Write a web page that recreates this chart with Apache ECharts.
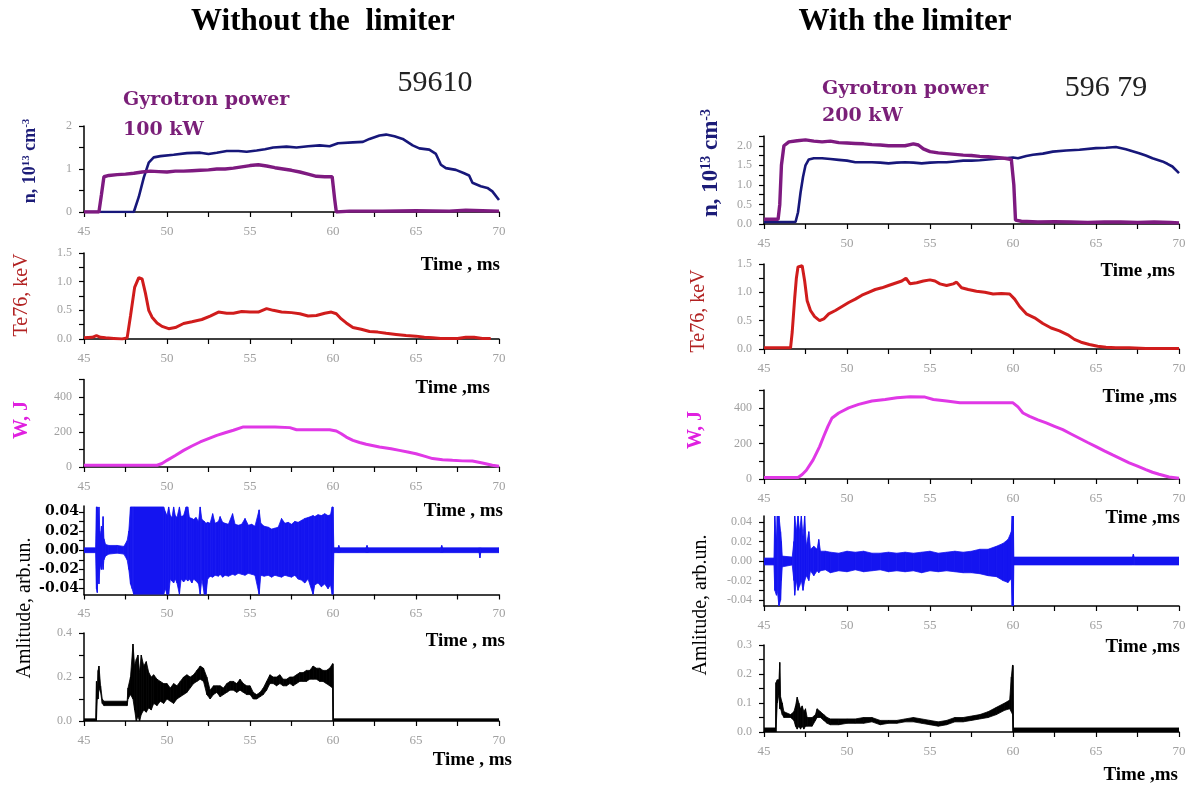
<!DOCTYPE html>
<html>
<head>
<meta charset="utf-8">
<script src="https://cdn.jsdelivr.net/npm/echarts@6.0.0/dist/echarts.min.js"></script>
<style>
html,body{margin:0;padding:0;background:#fff;}
#c{width:1192px;height:787px;}
</style>
</head>
<body>
<div id="c"></div>
<script>
// ---------------- DATA ----------------
// time axis ticks
const timeTicks = [45, 50, 55, 60, 65, 70];

// LEFT (without limiter, shot 59610)
const nL = [[45,0],[48.0,0],[48.3,0.35],[48.6,0.8],[48.9,1.15],[49.2,1.27],[49.6,1.3],[50.4,1.33],[51.2,1.37],[52.0,1.38],[52.5,1.35],[53.0,1.38],[53.6,1.42],[54.3,1.42],[54.8,1.40],[55.4,1.43],[55.9,1.46],[56.4,1.5],[57.2,1.52],[57.8,1.5],[58.5,1.53],[59.2,1.55],[59.8,1.53],[60.3,1.6],[61.2,1.62],[61.8,1.63],[62.2,1.7],[62.8,1.78],[63.2,1.8],[63.7,1.76],[64.2,1.7],[64.8,1.55],[65.2,1.48],[65.8,1.45],[66.2,1.35],[66.5,1.1],[66.8,1.02],[67.4,0.98],[67.9,0.9],[68.2,0.85],[68.4,0.68],[68.9,0.6],[69.3,0.56],[69.6,0.48],[70,0.28]];
const gyroL = [[45,0],[45.9,0],[46.05,0.4],[46.2,0.82],[46.5,0.85],[47.0,0.87],[47.5,0.88],[48.0,0.9],[48.5,0.93],[49.0,0.95],[49.5,0.94],[50.0,0.93],[50.5,0.95],[51.0,0.95],[51.5,0.96],[52.0,0.97],[52.5,0.98],[53.0,1.0],[53.5,1.0],[54.0,1.02],[54.5,1.05],[55.0,1.08],[55.5,1.1],[56.0,1.07],[56.5,1.03],[57.0,1.0],[57.5,0.97],[58.0,0.93],[58.5,0.88],[59.0,0.83],[59.5,0.82],[59.95,0.82],[60.1,0.3],[60.2,0.0],[61,0.02],[63,0.02],[65,0.03],[67,0.02],[68,0.04],[69,0.03],[70,0.02]];
const teL = [[45,0.02],[45.5,0.03],[45.75,0.06],[46.0,0.03],[46.3,0.02],[46.8,0.01],[47.3,0.0],[47.6,0.02],[47.8,0.4],[48.05,0.9],[48.3,1.07],[48.5,1.05],[48.7,0.8],[48.9,0.5],[49.1,0.38],[49.4,0.28],[49.7,0.22],[50.1,0.18],[50.5,0.2],[51.0,0.27],[51.5,0.3],[52.1,0.34],[52.6,0.4],[53.1,0.47],[53.6,0.45],[54.0,0.45],[54.5,0.48],[55.0,0.47],[55.5,0.47],[56.0,0.53],[56.4,0.5],[56.9,0.47],[57.5,0.46],[58.0,0.44],[58.5,0.4],[59.0,0.41],[59.5,0.45],[59.9,0.47],[60.2,0.44],[60.5,0.35],[60.8,0.28],[61.2,0.2],[61.7,0.17],[62.2,0.13],[62.7,0.12],[63.2,0.1],[63.8,0.08],[64.4,0.06],[65.0,0.05],[65.5,0.03],[66.0,0.02],[66.5,0.01],[67.5,0.01],[68.0,0.03],[68.5,0.03],[69.0,0.01],[69.5,0.01]];
const wL = [[45,10],[49.4,10],[49.7,20],[50.0,38],[50.5,66],[51.0,95],[51.5,120],[52.0,143],[52.5,162],[53.0,181],[53.5,196],[54.0,210],[54.6,229],[55.5,229],[56.5,229],[57.4,225],[57.8,213],[59.8,213],[60.2,206],[60.5,190],[60.8,171],[61.2,152],[61.6,140],[62.0,130],[62.8,114],[63.5,104],[64.0,95],[64.5,86],[65.0,76],[65.5,62],[66.0,48],[66.6,42],[67.2,38],[67.8,35],[68.4,34],[69.0,23],[69.6,10],[70,4]];
// ECE signal envelope: [time, lower, upper]
const eceL = [[45,-0.0025,0.0025],[45.7,-0.0025,0.0025],[45.75,-0.04,0.045],[45.8,-0.044,0.045],[45.85,-0.02,0.03],[45.9,-0.035,0.045],[45.95,-0.02,0.02],[46.0,-0.015,0.015],[46.05,-0.02,0.025],[46.1,-0.012,0.015],[46.15,-0.02,0.035],[46.2,-0.01,0.012],[46.3,-0.006,0.006],[46.5,-0.004,0.005],[47.0,-0.003,0.005],[47.4,-0.004,0.004],[47.6,-0.01,0.01],[47.7,-0.02,0.02],[47.8,-0.035,0.045],[47.9,-0.04,0.045],[48.0,-0.046,0.045],[49.8,-0.046,0.045],[49.9,-0.04,0.04],[50.0,-0.046,0.036],[50.1,-0.046,0.045],[50.2,-0.03,0.036],[50.3,-0.032,0.034],[50.4,-0.034,0.045],[50.5,-0.03,0.036],[50.6,-0.034,0.034],[50.75,-0.046,0.045],[50.85,-0.03,0.035],[51.0,-0.033,0.036],[51.15,-0.03,0.045],[51.25,-0.032,0.045],[51.35,-0.03,0.034],[51.5,-0.034,0.033],[51.6,-0.03,0.032],[51.75,-0.032,0.034],[51.9,-0.035,0.03],[52.0,-0.046,0.045],[52.1,-0.03,0.032],[52.25,-0.046,0.03],[52.35,-0.046,0.028],[52.45,-0.03,0.029],[52.6,-0.027,0.028],[52.75,-0.028,0.038],[52.9,-0.026,0.028],[53.1,-0.027,0.03],[53.2,-0.025,0.035],[53.35,-0.028,0.029],[53.5,-0.026,0.028],[53.7,-0.027,0.027],[53.95,-0.025,0.038],[54.1,-0.026,0.027],[54.3,-0.024,0.026],[54.5,-0.025,0.027],[54.7,-0.026,0.033],[54.9,-0.024,0.026],[55.1,-0.025,0.027],[55.3,-0.026,0.025],[55.55,-0.046,0.042],[55.65,-0.026,0.028],[55.85,-0.027,0.025],[56.1,-0.026,0.024],[56.3,-0.028,0.022],[56.5,-0.026,0.023],[56.7,-0.027,0.024],[56.9,-0.028,0.033],[57.1,-0.026,0.028],[57.3,-0.027,0.029],[57.5,-0.028,0.027],[57.7,-0.026,0.03],[57.9,-0.03,0.029],[58.1,-0.031,0.031],[58.3,-0.034,0.033],[58.5,-0.03,0.034],[58.8,-0.046,0.036],[58.9,-0.036,0.035],[59.1,-0.034,0.037],[59.3,-0.038,0.036],[59.5,-0.035,0.038],[59.7,-0.04,0.036],[59.85,-0.036,0.037],[59.95,-0.046,0.045],[60.0,-0.046,0.045],[60.05,-0.0025,0.0025],[60.3,-0.0025,0.0025],[60.35,-0.0025,0.005],[60.4,-0.0025,0.0025],[62.0,-0.0025,0.0025],[62.05,-0.0025,0.005],[62.1,-0.0025,0.0025],[66.5,-0.0025,0.0025],[66.55,-0.0025,0.005],[66.6,-0.0025,0.0025],[68.8,-0.0025,0.0025],[68.85,-0.008,0.0025],[68.9,-0.0025,0.0025],[70,-0.0025,0.0025]];
const ampL = [[45,0,0.01],[45.7,0,0.01],[45.75,0.0,0.18],[45.8,0.1,0.13],[45.85,0.1,0.23],[45.9,0.15,0.25],[46.0,0.13,0.16],[46.1,0.08,0.1],[46.2,0.07,0.09],[47.6,0.07,0.09],[47.65,0.1,0.15],[47.8,0.12,0.2],[47.95,0.1,0.35],[48.05,0.05,0.25],[48.15,0.0,0.28],[48.25,0.02,0.3],[48.35,0.0,0.22],[48.45,0.03,0.3],[48.6,0.05,0.25],[48.75,0.04,0.27],[48.9,0.06,0.22],[49.05,0.05,0.2],[49.2,0.08,0.21],[49.4,0.07,0.19],[49.6,0.09,0.18],[49.8,0.08,0.17],[50.0,0.1,0.17],[50.2,0.09,0.15],[50.4,0.08,0.17],[50.6,0.1,0.16],[50.8,0.11,0.18],[51.0,0.12,0.2],[51.2,0.13,0.21],[51.4,0.15,0.2],[51.6,0.17,0.21],[51.8,0.18,0.23],[52.0,0.19,0.25],[52.2,0.18,0.24],[52.4,0.12,0.2],[52.6,0.1,0.14],[52.8,0.12,0.16],[53.0,0.13,0.16],[53.2,0.11,0.16],[53.4,0.12,0.15],[53.6,0.13,0.17],[53.8,0.14,0.18],[54.0,0.14,0.18],[54.2,0.13,0.17],[54.4,0.14,0.19],[54.6,0.13,0.17],[54.8,0.12,0.16],[55.0,0.12,0.16],[55.2,0.1,0.13],[55.4,0.1,0.12],[55.6,0.11,0.13],[55.8,0.12,0.15],[56.0,0.14,0.18],[56.2,0.17,0.21],[56.4,0.17,0.2],[56.6,0.16,0.2],[56.8,0.17,0.21],[57.0,0.16,0.19],[57.2,0.16,0.19],[57.4,0.17,0.2],[57.6,0.16,0.2],[57.8,0.17,0.21],[58.0,0.18,0.22],[58.2,0.18,0.22],[58.4,0.18,0.23],[58.6,0.19,0.23],[58.8,0.19,0.25],[59.0,0.19,0.24],[59.2,0.18,0.24],[59.4,0.18,0.23],[59.6,0.17,0.23],[59.8,0.16,0.24],[59.97,0.15,0.26],[60.0,0,0.26],[60.03,0,0.01],[70,0,0.01]];

// RIGHT (with limiter, shot 59679)
const nR = [[45,0.05],[46.9,0.05],[47.05,0.3],[47.2,0.8],[47.35,1.2],[47.5,1.5],[47.7,1.65],[48.0,1.68],[48.5,1.68],[49.0,1.66],[49.5,1.64],[50.0,1.62],[50.5,1.58],[51.0,1.58],[51.5,1.58],[52.0,1.57],[52.5,1.55],[53.0,1.57],[53.5,1.58],[54.0,1.57],[54.5,1.55],[55.0,1.57],[55.5,1.58],[56.0,1.58],[56.5,1.6],[57.0,1.62],[57.5,1.62],[58.0,1.63],[58.5,1.65],[59.0,1.67],[59.5,1.68],[60.0,1.7],[60.3,1.68],[60.8,1.74],[61.2,1.77],[61.8,1.8],[62.4,1.85],[63.2,1.88],[64.0,1.9],[65.0,1.94],[65.6,1.95],[66.2,1.97],[66.8,1.91],[67.2,1.86],[67.6,1.81],[68.0,1.75],[68.4,1.68],[69.0,1.6],[69.3,1.54],[69.6,1.47],[70,1.3]];
const gyroR = [[45,0.12],[45.85,0.12],[45.95,0.5],[46.05,1.5],[46.2,2.0],[46.5,2.1],[47.0,2.13],[47.5,2.15],[48.0,2.12],[48.5,2.1],[49.0,2.12],[49.5,2.08],[50.0,2.07],[50.5,2.06],[51.0,2.05],[51.5,2.03],[52.0,2.02],[52.5,2.0],[53.0,2.0],[53.5,2.0],[54.0,2.05],[54.3,2.02],[54.6,1.92],[55.0,1.85],[55.5,1.82],[56.0,1.8],[56.5,1.78],[57.0,1.76],[57.5,1.75],[58.0,1.73],[58.5,1.72],[59.0,1.7],[59.5,1.68],[59.9,1.65],[60.05,1.0],[60.15,0.1],[60.5,0.07],[61.5,0.05],[62.5,0.06],[63.5,0.05],[64.5,0.04],[65.5,0.05],[66.5,0.05],[67.5,0.04],[68.5,0.05],[69.5,0.04],[70,0.03]];
const teR = [[45,0.02],[46.6,0.02],[46.7,0.3],[46.85,0.9],[46.95,1.25],[47.05,1.45],[47.3,1.47],[47.45,1.2],[47.6,0.85],[47.8,0.68],[48.05,0.57],[48.35,0.5],[48.6,0.53],[48.9,0.62],[49.3,0.68],[49.7,0.75],[50.1,0.82],[50.5,0.88],[50.9,0.95],[51.3,1.0],[51.7,1.05],[52.1,1.08],[52.5,1.12],[52.9,1.16],[53.3,1.2],[53.55,1.25],[53.8,1.15],[54.2,1.17],[54.6,1.2],[55.0,1.22],[55.3,1.2],[55.6,1.15],[56.0,1.12],[56.4,1.15],[56.6,1.18],[56.9,1.08],[57.3,1.05],[57.8,1.02],[58.3,1.0],[58.8,0.97],[59.3,0.98],[59.8,0.97],[60.1,0.88],[60.4,0.75],[60.8,0.62],[61.3,0.55],[61.8,0.45],[62.3,0.37],[62.8,0.32],[63.3,0.25],[63.7,0.17],[64.1,0.12],[64.6,0.08],[65.1,0.05],[65.6,0.03],[66.2,0.02],[67.0,0.02],[68,0.01],[70,0.01]];
const wR = [[45,8],[47.05,8],[47.3,25],[47.55,49],[47.95,106],[48.35,182],[48.6,240],[48.85,296],[49.1,343],[49.5,371],[50.1,400],[50.7,419],[51.5,438],[52.3,447],[53.0,457],[53.8,462],[54.7,460],[55.2,447],[56.0,438],[56.8,428],[60.0,428],[60.3,405],[60.6,371],[61.0,352],[61.5,332],[62.0,315],[62.5,296],[63.0,277],[63.5,253],[64.0,229],[64.5,205],[65.0,182],[65.5,158],[66.0,135],[66.5,113],[67.0,91],[67.5,72],[68.0,53],[68.4,38],[68.8,27],[69.4,11],[70,4]];
const eceR = [[45,-0.004,0.003],[45.6,-0.004,0.003],[45.65,-0.03,0.046],[45.75,-0.035,0.02],[45.8,-0.03,0.046],[45.9,-0.046,0.046],[46.0,-0.04,0.03],[46.05,-0.02,0.02],[46.1,-0.006,0.005],[46.7,-0.004,0.004],[46.8,-0.02,0.02],[46.85,-0.035,0.046],[46.95,-0.02,0.03],[47.05,-0.03,0.046],[47.15,-0.025,0.03],[47.25,-0.02,0.046],[47.35,-0.03,0.025],[47.45,-0.02,0.046],[47.55,-0.015,0.015],[47.7,-0.02,0.03],[47.8,-0.01,0.012],[48.0,-0.015,0.015],[48.2,-0.01,0.012],[48.3,-0.012,0.022],[48.4,-0.01,0.01],[48.7,-0.009,0.01],[49.0,-0.012,0.009],[49.5,-0.01,0.008],[50.0,-0.011,0.01],[50.5,-0.009,0.009],[51.0,-0.011,0.01],[51.5,-0.01,0.008],[52.0,-0.009,0.008],[52.5,-0.011,0.009],[53.0,-0.01,0.008],[53.5,-0.011,0.009],[54.0,-0.01,0.008],[54.5,-0.012,0.009],[55.0,-0.01,0.01],[55.5,-0.011,0.008],[56.0,-0.01,0.009],[56.5,-0.011,0.01],[57.0,-0.012,0.009],[57.5,-0.012,0.01],[58.0,-0.013,0.012],[58.5,-0.015,0.012],[59.0,-0.016,0.015],[59.4,-0.02,0.018],[59.7,-0.022,0.022],[59.9,-0.018,0.03],[59.95,-0.046,0.046],[60.02,-0.046,0.046],[60.05,-0.004,0.004],[67.2,-0.004,0.004],[67.25,-0.004,0.007],[67.3,-0.004,0.004],[70,-0.004,0.004]];
const ampR = [[45,0,0.014],[45.7,0,0.014],[45.72,0,0.17],[45.8,0.1,0.18],[45.9,0.13,0.18],[45.95,0.08,0.24],[46.0,0.08,0.12],[46.1,0.06,0.1],[46.2,0.05,0.07],[46.6,0.05,0.06],[46.8,0.04,0.07],[46.9,0.02,0.09],[47.0,0.01,0.12],[47.1,0.02,0.1],[47.2,0.01,0.08],[47.3,0.02,0.09],[47.4,0.01,0.07],[47.5,0.02,0.08],[47.6,0.02,0.05],[47.9,0.02,0.05],[48.1,0.04,0.06],[48.2,0.05,0.08],[48.4,0.05,0.07],[48.6,0.04,0.06],[48.8,0.03,0.05],[49.0,0.025,0.045],[49.5,0.025,0.045],[50.0,0.03,0.045],[50.5,0.03,0.045],[51.0,0.03,0.05],[51.5,0.035,0.05],[52.0,0.025,0.04],[52.5,0.03,0.04],[53.0,0.03,0.04],[53.5,0.035,0.045],[54.0,0.035,0.05],[54.5,0.03,0.045],[55.0,0.025,0.04],[55.5,0.02,0.035],[56.0,0.025,0.04],[56.5,0.035,0.05],[57.0,0.035,0.05],[57.5,0.04,0.055],[58.0,0.045,0.06],[58.5,0.05,0.07],[59.0,0.06,0.085],[59.5,0.075,0.1],[59.8,0.08,0.11],[59.9,0.07,0.19],[59.97,0.06,0.23],[60.0,0,0.23],[60.03,0,0.014],[70,0,0.014]];

// y tick label sets
const densTicksL = [0, 1, 2];
const eceTicks = [-0.04, -0.03, -0.02, -0.01, 0, 0.01, 0.02, 0.03, 0.04];
const eceLabels = [-0.04, -0.02, 0, 0.02, 0.04];

// ---------------- CHART ----------------
const SERIF = "'Liberation Serif', 'Times New Roman', serif";
const GRAY = '#a0a0a0';
const chart = echarts.init(document.getElementById('c'));

const grids = [
  {left:84, top:126, width:415, height:86},
  {left:84, top:253, width:415, height:86},
  {left:84, top:379.5, width:415, height:87.5},
  {left:84, top:506, width:415, height:88.5},
  {left:84, top:633, width:415, height:88},
  {left:764, top:136, width:415, height:88},
  {left:764, top:264, width:415, height:85},
  {left:764, top:390, width:415, height:89},
  {left:764, top:516, width:415, height:90},
  {left:764, top:645, width:415, height:87}
];

function xAx(gi) {
  return {
    type:'value', gridIndex:gi, min:45, max:70, interval:2.5,
    axisLine:{show:true, onZero:false, lineStyle:{color:'#000', width:1.5}},
    axisTick:{show:true, length:5, lineStyle:{color:'#000', width:1.2}},
    axisLabel:{formatter:v => (timeTicks.indexOf(v) >= 0 ? String(v) : ''), color:GRAY, fontSize:13, fontFamily:SERIF, margin:13},
    splitLine:{show:false}
  };
}
function yAx(gi, min, max, interval, fmt, lbl) {
  const a = {
    type:'value', gridIndex:gi, min:min, max:max,
    axisLine:{show:true, onZero:false, lineStyle:{color:'#000', width:1.5}},
    axisTick:{show:true, length:5, lineStyle:{color:'#000', width:1.2}},
    axisLabel:Object.assign({formatter:fmt, color:GRAY, fontSize:12, fontFamily:SERIF, margin:12}, lbl || {}),
    splitLine:{show:false}
  };
  if (interval) a.interval = interval;
  return a;
}
const near = (v, step) => Math.abs(v / step - Math.round(v / step)) < 1e-6;
const f1half = v => near(v, 0.5) ? v.toFixed(1) : '';

const yAxes = [
  yAx(0, 0, 2, 0.5, v => densTicksL.indexOf(v) >= 0 ? String(v) : ''),
  yAx(1, 0, 1.5, 0.25, f1half),
  yAx(2, 0, 500, 100, v => (v % 200 === 0 && v <= 400) ? String(v) : ''),
  (function(){ const a = yAx(3, -0.046, 0.046, null, v => v.toFixed(2), {color:'#000', fontWeight:'bold', fontSize:14, fontFamily:"'DejaVu Serif', serif", margin:5, customValues:eceLabels}); a.axisTick.customValues = eceTicks; return a; })(),
  yAx(4, 0, 0.4, 0.1, v => near(v, 0.2) ? v.toFixed(1) : ''),
  yAx(5, 0, 2.25, 0.25, f1half),
  yAx(6, 0, 1.5, 0.25, f1half),
  yAx(7, 0, 500, 100, v => (v % 200 === 0 && v <= 400) ? String(v) : ''),
  (function(){ const a = yAx(8, -0.046, 0.046, null, v => v.toFixed(2), {customValues:eceLabels}); a.axisTick.customValues = eceTicks; return a; })(),
  yAx(9, 0, 0.3, 0.05, v => near(v, 0.1) ? v.toFixed(1) : '')
];

function lineS(idx, data, color, width, z) {
  return {type:'line', xAxisIndex:idx, yAxisIndex:idx, data:data, showSymbol:false, symbol:'none',
          lineStyle:{color:color, width:width}, itemStyle:{color:color}, z:z || 2, silent:true};
}
function bandS(idx, data, color) {
  return {
    type:'custom', xAxisIndex:idx, yAxisIndex:idx, data:data, encode:{x:0, y:[1,2]}, silent:true, clip:true,
    renderItem:function(params, api) {
      const i = params.dataIndex;
      if (i >= data.length - 1) return null;
      const a = data[i], b = data[i + 1];
      const pts = [api.coord([a[0], a[2]]), api.coord([b[0], b[2]]), api.coord([b[0], b[1]]), api.coord([a[0], a[1]])];
      return {type:'polygon', shape:{points:pts}, style:{fill:color, stroke:color, lineWidth:0.8}};
    }
  };
}

const NAVY = '#17177a', PURPLE = '#7e1a80', RED = '#d01c1c', MAG = '#e038e6', BLUE = '#1414f0';

const series = [
  lineS(0, nL, NAVY, 2.6, 2),
  lineS(0, gyroL, PURPLE, 3.4, 3),
  lineS(1, teL, RED, 3, 2),
  lineS(2, wL, MAG, 3, 2),
  bandS(3, eceL, BLUE),
  bandS(4, ampL, '#000'),
  lineS(5, nR, NAVY, 2.6, 2),
  lineS(5, gyroR, PURPLE, 3.4, 3),
  lineS(6, teR, RED, 3, 2),
  lineS(7, wR, MAG, 3, 2),
  bandS(8, eceR, BLUE),
  bandS(9, ampR, '#000')
];

function txt(x, y, text, opt) {
  return {type:'text', x:x, y:y, rotation:opt.rot || 0, silent:true, z:10,
    style:Object.assign({text:text, fontFamily:SERIF, fontSize:14, fill:'#000', align:'left', verticalAlign:'middle'}, opt.style || {})};
}
const R90 = Math.PI / 2;
const timeStyle = {fontSize:19, fontWeight:'bold', align:'right'};
const gyroStyle = {fontFamily:"'DejaVu Serif', serif", fontSize:19, fontWeight:'bold', fill:'#7a1f78'};
const nRich = {s:{fontSize:11, fontWeight:'bold', fontFamily:SERIF, fill:'#1c1c78', verticalAlign:'top'}};

const graphics = [
  txt(323, 22, 'Without the  limiter', {style:{fontSize:31, fontWeight:'bold', align:'center'}}),
  txt(905, 22, 'With the limiter', {style:{fontSize:31, fontWeight:'bold', align:'center'}}),
  txt(435, 83, '59610', {style:{fontSize:30, align:'center', fill:'#222'}}),
  txt(1106, 88, '596 79', {style:{fontSize:30, align:'center', fill:'#222'}}),
  txt(123, 100, 'Gyrotron power', {style:gyroStyle}),
  txt(123, 130, '100 kW', {style:gyroStyle}),
  txt(822, 89, 'Gyrotron power', {style:gyroStyle}),
  txt(822, 116, '200 kW', {style:gyroStyle}),
  // time labels
  txt(500, 265, 'Time , ms', {style:timeStyle}),
  txt(490, 388, 'Time ,ms', {style:timeStyle}),
  txt(503, 511, 'Time , ms', {style:timeStyle}),
  txt(505, 641, 'Time , ms', {style:timeStyle}),
  txt(512, 760, 'Time , ms', {style:timeStyle}),
  txt(1175, 271, 'Time ,ms', {style:timeStyle}),
  txt(1177, 397, 'Time ,ms', {style:timeStyle}),
  txt(1180, 518, 'Time ,ms', {style:timeStyle}),
  txt(1180, 647, 'Time ,ms', {style:timeStyle}),
  txt(1178, 775, 'Time ,ms', {style:timeStyle}),
  // y axis names
  txt(30, 161, 'n, 10{s|13} cm{s|-3}', {rot:R90, style:{fontSize:18, fontWeight:'bold', fill:'#1c1c78', align:'center', rich:nRich}}),
  txt(22, 295, 'Te76, keV', {rot:R90, style:{fontSize:20, fill:'#b22222', align:'center'}}),
  txt(22, 420, 'W, J', {rot:R90, style:{fontSize:20, fontWeight:'bold', fill:'#e020e0', align:'center'}}),
  txt(25, 608, 'Amlitude, arb.un.', {rot:R90, style:{fontSize:20, align:'center'}}),
  txt(711, 163, 'n, 10{s|13} cm{s|-3}', {rot:R90, style:{fontSize:23, fontWeight:'bold', fill:'#1c1c78', align:'center', rich:{s:{fontSize:14, fontWeight:'bold', fontFamily:SERIF, fill:'#1c1c78', verticalAlign:'top'}}}}),
  txt(699, 311, 'Te76, keV', {rot:R90, style:{fontSize:20, fill:'#b22222', align:'center'}}),
  txt(696, 430, 'W, J', {rot:R90, style:{fontSize:20, fontWeight:'bold', fill:'#e020e0', align:'center'}}),
  txt(701, 605, 'Amlitude, arb.un.', {rot:R90, style:{fontSize:20, align:'center'}})
];

chart.setOption({
  animation:false,
  backgroundColor:'#fff',
  grid:grids,
  xAxis:grids.map((g, i) => xAx(i)),
  yAxis:yAxes,
  series:series,
  graphic:graphics
});
</script>
</body>
</html>
